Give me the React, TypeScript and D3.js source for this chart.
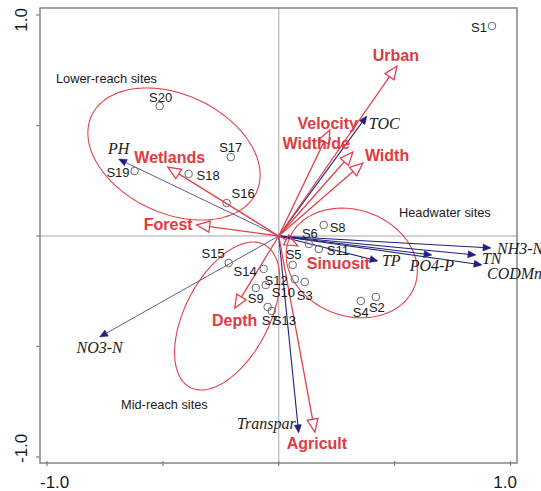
import React from "react";
import * as d3 from "d3";

// Site scores (axis 1, axis 2)
const SITES = ["S1","S2","S3","S4","S5","S6","S7","S8","S9","S10","S11","S12","S13","S14","S15","S16","S17","S18","S19","S20"];
const SITE_X = [0.92, 0.419, 0.112, 0.354, 0.06, 0.13, -0.048, 0.194, -0.099, -0.056, 0.173, 0.069, -0.03, -0.065, -0.216, -0.225, -0.207, -0.389, -0.622, -0.514];
const SITE_Y = [0.95, -0.276, -0.208, -0.294, -0.131, -0.036, -0.321, 0.05, -0.235, -0.222, -0.059, -0.195, -0.339, -0.149, -0.122, 0.149, 0.357, 0.281, 0.294, 0.588];

// Water-quality variables (blue arrows)
const WQ_NAMES = ["PH","NO3-N","Transpar","TOC","TP","PO4-P","TN","CODMn","NH3-N"];
const WQ_X = [-0.691, -0.773, 0.086, 0.38, 0.428, 0.661, 0.851, 0.877, 0.916];
const WQ_Y = [0.348, -0.457, -0.891, 0.543, -0.113, -0.086, -0.086, -0.131, -0.054];

// Habitat and land-use variables (red arrows)
const HAB_NAMES = ["Urban","Velocity","Width/de","Width","Wetlands","Forest","Sinuosit","Depth","Agricult"];
const HAB_X = [0.51, 0.22, 0.32, 0.363, -0.479, -0.354, 0.082, -0.19, 0.156];
const HAB_Y = [0.769, 0.48, 0.38, 0.33, 0.312, 0.05, -0.045, -0.326, -0.887];

// Site groups: centre and two semi-axis vectors in score units
const GROUP_NAMES = ["Lower-reach sites", "Headwater sites", "Mid-reach sites"];
const GROUP_CENTER = [[-0.452, 0.371], [0.315, -0.122], [-0.2225, -0.362]];
const GROUP_AXIS_U = [[0.3555, -0.1737], [0.272, -0.1036], [0.1598, 0.3231]];
const GROUP_AXIS_V = [[-0.1083, -0.2431], [-0.0783, -0.2254], [0.1611, -0.0873]];

const TICKS = [-1, -0.5, 0, 0.5, 1];
const TICK_LABELS = ["-1.0", "", "", "", "1.0"];

// Label placement: [anchor, dx, dy] relative to the mark, in pixels
const SITE_LABEL_POS: Record<string, [string, number, number]> = {
  S1: ["end", -5, 6], S2: ["middle", 1, 15], S3: ["middle", 0, 18], S4: ["middle", 0, 16],
  S5: ["middle", 1, -6], S6: ["middle", 1, -6], S7: ["middle", 2, 18], S8: ["start", 6, 7],
  S9: ["middle", 0, 15], S10: ["start", 6, 12], S11: ["start", 8, 6], S12: ["end", -7, 6],
  S13: ["start", 1, 14], S14: ["end", -7, 7], S15: ["end", -4, -5], S16: ["start", 5, -5],
  S17: ["middle", 0, -5], S18: ["start", 8, 6], S19: ["end", -5, 6], S20: ["middle", 1, -4],
};
const WQ_LABEL_POS: Record<string, [string, number, number]> = {
  "PH": ["middle", 0, -5], "NO3-N": ["middle", 0, 16], "Transpar": ["end", -3, -4],
  "TOC": ["start", 2, 13], "TP": ["start", 4, 5], "PO4-P": ["middle", 0, 16],
  "TN": ["start", 6, 9], "CODMn": ["start", 5, 14], "NH3-N": ["start", 6, 6],
};
const HAB_LABEL_POS: Record<string, [string, number, number]> = {
  "Urban": ["middle", -1, -5], "Velocity": ["middle", -2, -1], "Width/de": ["end", -3, -3],
  "Width": ["start", 2, -2], "Wetlands": ["middle", 2, -4], "Forest": ["end", -4, 5],
  "Sinuosit": ["start", 9, 23], "Depth": ["middle", 0, 18], "Agricult": ["middle", 2, 17],
};
const GROUP_LABEL_AT: [number, number][] = [[56, 83], [399, 217], [121, 409]];

const W = 541;
const H = 491;
const FRAME = { left: 40, right: 517, top: 8, bottom: 463 };

const RED = "#e0434b";
const RED_TEXT = "#e03a42";
const NAVY = "#1f1f80";
const SANS = "'Liberation Sans', Arial, Helvetica, sans-serif";
const SERIF = "'Liberation Serif', 'Times New Roman', serif";

function arrowGeom(x0: number, y0: number, x1: number, y1: number, len: number, half: number) {
  const dx = x1 - x0, dy = y1 - y0;
  const d = Math.hypot(dx, dy) || 1;
  const ux = dx / d, uy = dy / d;
  const bx = x1 - ux * len, by = y1 - uy * len;
  const nx = -uy, ny = ux;
  const tri = `M${x1},${y1}L${bx + nx * half},${by + ny * half}L${bx - nx * half},${by - ny * half}Z`;
  return { bx, by, tri };
}

export default function App() {
  const x = d3.scaleLinear().domain([-1, 1]).range([47, 510.5]);
  const y = d3.scaleLinear().domain([-1, 1]).range([457, 15]);
  const ox = x(0), oy = y(0);

  const ellipseLine = d3.line<[number, number]>().x(d => x(d[0])).y(d => y(d[1])).curve(d3.curveLinearClosed);
  const ellipses = GROUP_NAMES.map((name, i) => {
    const [cx, cy] = GROUP_CENTER[i];
    const [ux, uy] = GROUP_AXIS_U[i];
    const [vx, vy] = GROUP_AXIS_V[i];
    const pts: [number, number][] = d3.range(0, 2 * Math.PI, Math.PI / 90).map(t => [
      cx + Math.cos(t) * ux + Math.sin(t) * vx,
      cy + Math.cos(t) * uy + Math.sin(t) * vy,
    ]);
    return { name, d: ellipseLine(pts) as string };
  });

  return (
    <svg width={W} height={H} style={{ position: "absolute", left: 0, top: 0, background: "#fff" }}>
      <rect x={0} y={0} width={W} height={H} fill="#fff" />
      {/* zero lines */}
      <line x1={FRAME.left} x2={FRAME.right} y1={oy} y2={oy} stroke="#a8a8a8" strokeWidth={1} />
      <line x1={ox} x2={ox} y1={FRAME.top} y2={FRAME.bottom} stroke="#a8a8a8" strokeWidth={1} />

      {/* frame */}
      <rect x={FRAME.left} y={FRAME.top} width={FRAME.right - FRAME.left} height={FRAME.bottom - FRAME.top}
        fill="none" stroke="#858585" strokeWidth={1.5} />

      {/* ticks */}
      {TICKS.map((t, i) => (
        <g key={"xt" + i}>
          <line x1={x(t)} x2={x(t)} y1={FRAME.bottom - 2} y2={FRAME.bottom + 3} stroke="#858585" strokeWidth={1.2} />
          <line x1={FRAME.left - 4} x2={FRAME.left} y1={y(t)} y2={y(t)} stroke="#858585" strokeWidth={1.2} />
        </g>
      ))}
      {TICKS.map((t, i) => TICK_LABELS[i] ? (
        <g key={"tl" + i} fontFamily={SANS} fontSize={17} fill="#1a1a1a">
          <text x={t < 0 ? FRAME.left : FRAME.right} y={488} textAnchor={t < 0 ? "start" : "end"}>{TICK_LABELS[i]}</text>
          <text transform={`translate(27,${t < 0 ? FRAME.bottom : FRAME.top}) rotate(-90)`}
            textAnchor={t < 0 ? "start" : "end"}>{TICK_LABELS[i]}</text>
        </g>
      ) : null)}

      {/* site group ellipses */}
      {ellipses.map(e => (
        <path key={e.name} d={e.d} fill="none" stroke={RED} strokeWidth={1.1} />
      ))}
      {GROUP_NAMES.map((n, i) => (
        <text key={n} x={GROUP_LABEL_AT[i][0]} y={GROUP_LABEL_AT[i][1]} fontFamily={SANS} fontSize={12.8} fill="#1a1a1a">{n}</text>
      ))}

      {/* water-quality arrows */}
      {WQ_NAMES.map((n, i) => {
        const tx = x(WQ_X[i]), ty = y(WQ_Y[i]);
        const g = arrowGeom(ox, oy, tx, ty, 8, 3.5);
        const light = n === "PH" || n === "NO3-N";
        const col = light ? "#4a4a8c" : NAVY;
        return (
          <g key={n}>
            <line x1={ox} y1={oy} x2={g.bx} y2={g.by} stroke={col} strokeWidth={light ? 0.9 : 1.1} />
            <path d={g.tri} fill={NAVY} stroke={NAVY} strokeWidth={0.5} />
          </g>
        );
      })}

      {/* habitat arrows */}
      {HAB_NAMES.map((n, i) => {
        const tx = x(HAB_X[i]), ty = y(HAB_Y[i]);
        const g = arrowGeom(ox, oy, tx, ty, 13, 5.5);
        return (
          <g key={n}>
            <line x1={ox} y1={oy} x2={g.bx} y2={g.by} stroke={RED} strokeWidth={1.3} />
            <path d={g.tri} fill="none" stroke={RED} strokeWidth={1.3} strokeLinejoin="miter" />
          </g>
        );
      })}

      {/* sites */}
      {SITES.map((s, i) => (
        <circle key={s} cx={x(SITE_X[i])} cy={y(SITE_Y[i])} r={3.8} fill="none" stroke="#6a6a6a" strokeWidth={1} />
      ))}
      {SITES.map((s, i) => {
        const [a, dx, dy] = SITE_LABEL_POS[s];
        return (
          <text key={"l" + s} x={x(SITE_X[i]) + dx} y={y(SITE_Y[i]) + dy} textAnchor={a as any}
            fontFamily={SANS} fontSize={13} fill="#1a1a1a">{s}</text>
        );
      })}

      {/* variable labels */}
      {WQ_NAMES.map((n, i) => {
        const [a, dx, dy] = WQ_LABEL_POS[n];
        return (
          <text key={"w" + n} x={x(WQ_X[i]) + dx} y={y(WQ_Y[i]) + dy} textAnchor={a as any}
            fontFamily={SERIF} fontStyle="italic" fontSize={16} fill="#222">{n}</text>
        );
      })}
      {HAB_NAMES.map((n, i) => {
        const [a, dx, dy] = HAB_LABEL_POS[n];
        return (
          <text key={"h" + n} x={x(HAB_X[i]) + dx} y={y(HAB_Y[i]) + dy} textAnchor={a as any}
            fontFamily={SANS} fontWeight="bold" fontSize={16} fill={RED_TEXT}>{n}</text>
        );
      })}
    </svg>
  );
}
